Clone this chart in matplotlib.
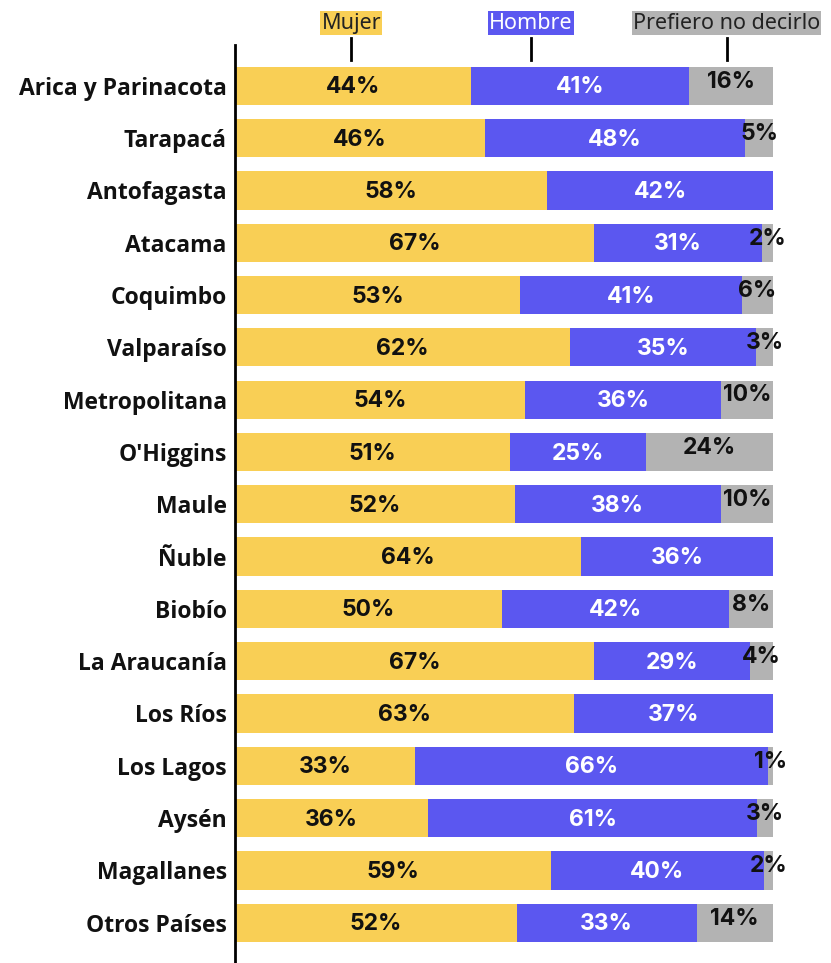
import matplotlib
matplotlib.use("Agg")
import matplotlib.pyplot as plt

plt.rcParams['font.family'] = ['Inter', 'DejaVu Sans']

# datos por región (% de cada categoría)
regiones = ['Arica y Parinacota', 'Tarapacá', 'Antofagasta', 'Atacama', 'Coquimbo',
            'Valparaíso', 'Metropolitana', "O'Higgins", 'Maule', 'Ñuble', 'Biobío',
            'La Araucanía', 'Los Ríos', 'Los Lagos', 'Aysén', 'Magallanes', 'Otros Países']
mujer = [43.8, 46.4, 58.0, 66.8, 53.0, 62.3, 53.9, 51.1, 52.0, 64.3, 49.6,
         66.7, 63.0, 33.4, 35.9, 58.7, 52.4]
hombre = [40.6, 48.4, 42.0, 31.2, 41.2, 34.6, 36.4, 25.3, 38.3, 35.7, 42.2,
          29.0, 37.0, 65.7, 61.1, 39.6, 33.4]
prefiero = [15.6, 5.2, 0.0, 2.0, 5.8, 3.1, 9.7, 23.6, 9.7, 0.0, 8.2,
            4.3, 0.0, 0.9, 3.0, 1.7, 14.2]

series = ['Mujer', 'Hombre', 'Prefiero no decirlo']
colores = ['#F9CF55', '#5B57F0', '#B3B3B3']
color_texto = ['#111111', 'white', '#111111']
pos_leyenda = [21.6, 55.0, 91.4]

fig = plt.figure(figsize=(8.31, 9.63), dpi=100)
ax = fig.add_axes([235 / 831, 0, 538 / 831, 918 / 963])

y = list(range(len(regiones)))
izq = [0.0] * len(regiones)
for serie, valores, col, ctxt in zip(series, [mujer, hombre, prefiero], colores, color_texto):
    ax.barh(y, valores, left=izq, height=0.73, color=col)
    for i, v in enumerate(valores):
        if v > 0:
            dy = -0.08 if serie == 'Prefiero no decirlo' else 0.03
            ax.text(izq[i] + v / 2, i + dy, f"{v:.0f}%", ha='center', va='center',
                    color=ctxt, fontsize=16.5, fontweight='bold')
    izq = [a + b for a, b in zip(izq, valores)]

ax.set_xlim(0, 100)
ax.set_ylim(16.77, -0.78)
ax.set_yticks(y)
ax.set_yticklabels(regiones, fontsize=16.5, fontweight='bold', color='#111111',
                   family=['Open Sans', 'DejaVu Sans'])
ax.tick_params(axis='y', length=0, pad=6)
for t in ax.get_yticklabels():
    t.set_va('center_baseline')
ax.set_xticks([])
for lado in ['top', 'right', 'bottom']:
    ax.spines[lado].set_visible(False)
ax.spines['left'].set_linewidth(2)

# leyenda arriba con marcas
for serie, col, xp in zip(series, colores, pos_leyenda):
    ax.text(xp, -1.2, serie, ha='center', va='center', fontsize=15.5,
            family=['Noto Sans', 'DejaVu Sans'],
            color='white' if serie == 'Hombre' else '#222222',
            bbox=dict(boxstyle='square,pad=0.05', fc=col, ec='none'), clip_on=False)
    ax.plot([xp, xp], [-0.92, -0.5], color='black', lw=2, clip_on=False)

fig.savefig('out.png', dpi=100)
